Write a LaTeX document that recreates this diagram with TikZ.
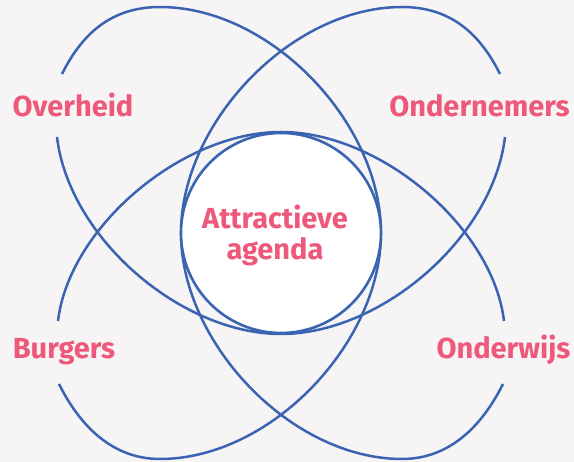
\documentclass[tikz,border=0pt]{standalone}
\usepackage{fontspec}
\setmainfont{Fira Sans}
\usepackage{tikz}
\definecolor{cBg}{RGB}{247,244,245}
\definecolor{cLine}{RGB}{58,100,178}
\definecolor{cPink}{RGB}{238,88,122}
\tikzset{
  orbit/.style={draw=cLine,line width=2.5pt},
  hubnode/.style={circle,draw=cLine,line width=2.6pt,fill=white,
                  minimum size=200pt,inner sep=0pt},
  lblnode/.style={font=\fontsize{29}{31}\selectfont\bfseries,
                  text=cPink,inner sep=0pt,anchor=base}
}

\begin{document}
\begin{tikzpicture}[x=1pt,y=1pt]
  \fill[cBg] (-281,-229) rectangle (293,233);
  \useasboundingbox (-281,-229) rectangle (293,233);

  % left orbit, mirrored for the right one
  \foreach \s in {1,-1}{
    \begin{scope}[xscale=\s]
      \draw[orbit] (-219,159) .. controls (-199,199) and (-170,226) .. (-121,226)
        .. controls (-10,226) and (100,110) .. (100,0)
        .. controls (100,-110) and (-10,-226) .. (-121,-226)
        .. controls (-170,-226) and (-202,-191) .. (-222,-151);
    \end{scope}
  }
  % lower orbit
  \draw[orbit] (-224,96) .. controls (-212,-5) and (-100,-101) .. (0,-101)
    .. controls (100,-101) and (212,-5) .. (224,96);
  % upper orbit
  \draw[orbit] (-223,-88) .. controls (-212,5) and (-100,101) .. (0,101)
    .. controls (100,101) and (212,5) .. (223,-88);

  \node[hubnode] (hub) at (0,0) {};
  \node[lblnode,anchor=center,align=center] (agenda) at (-6,-2)
      {Attractieve\\agenda};

  \node[lblnode] (overheid) at (-208,116) {Overheid};
  \node[lblnode] (ondernemers) at (198.5,116) {Ondernemers};
  \node[lblnode] (burgers) at (-217,-126) {Burgers};
  \node[lblnode] (onderwijs) at (222.5,-126) {Onderwijs};
\end{tikzpicture}
\end{document}
